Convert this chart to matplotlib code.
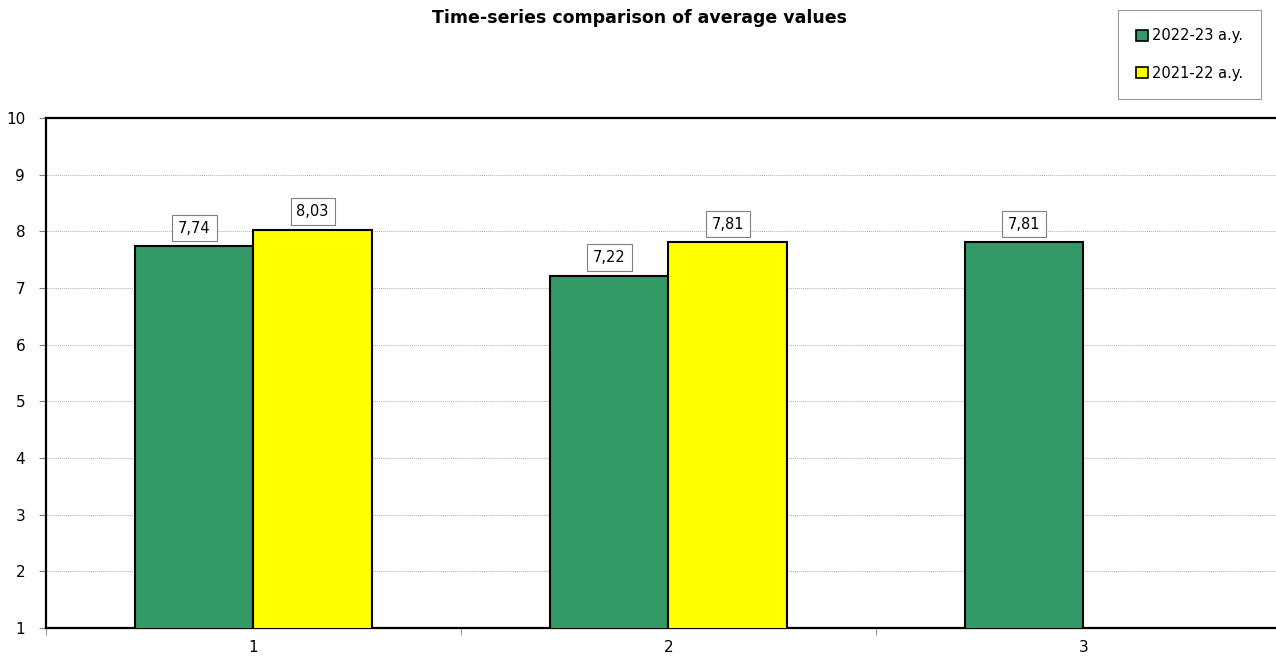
import matplotlib
matplotlib.use("Agg")
import matplotlib.pyplot as plt
import numpy as np
from matplotlib.patches import Patch

categories = ["1", "2", "3"]
series_names = ["2022-23 a.y.", "2021-22 a.y."]
values_2223 = [7.74, 7.22, 7.81]
values_2122 = [8.03, 7.81, np.nan]
colors = ["#339966", "#FFFF00"]
title = "Time-series comparison of average values"

plt.rcParams['font.family'] = ['DejaVu Sans']

fig = plt.figure(figsize=(12.76, 6.61), dpi=100)
W, H = 1276, 661
left, right, top, bottom = 46, 1291, 118, 628
ax = fig.add_axes([left / W, 1 - bottom / H, (right - left) / W, (bottom - top) / H])

x = np.arange(len(categories))
bw = 0.285
ax.bar(x - bw / 2, values_2223, bw, bottom=0, color=colors[0], edgecolor="black", linewidth=1.5, zorder=3)
ax.bar(x + bw / 2, values_2122, bw, bottom=0, color=colors[1], edgecolor="black", linewidth=1.5, zorder=3)

ax.set_xlim(-0.5, 2.5)
ax.set_ylim(1, 10)
ax.set_yticks(range(1, 11))
ax.yaxis.grid(True, color="#b0b0b0", linestyle=(0, (1, 1)), linewidth=0.7, zorder=0)
ax.set_xticks(x)
ax.set_xticklabels(categories, fontsize=11)
ax.set_xticks([-0.5, 0.5, 1.5, 2.5], minor=True)
ax.tick_params(axis="x", which="major", length=0, pad=9)
ax.tick_params(axis="x", which="minor", length=5, color="#808080", direction="out")
ax.tick_params(axis="y", length=5, color="#808080", labelsize=11, pad=10)

for s in ["left", "top", "bottom", "right"]:
    ax.spines[s].set_linewidth(1.6)
    ax.spines[s].set_color("black")

def lab(v):
    return f"{v:.2f}".replace(".", ",")

for xs, vals in [(x - bw / 2, values_2223), (x + bw / 2, values_2122)]:
    for xi, v in zip(xs, vals):
        if np.isnan(v):
            continue
        ax.annotate(lab(v), (xi, v), xytext=(0, 13), textcoords="offset points",
                    ha="center", va="center", fontsize=10.5, zorder=5,
                    bbox=dict(boxstyle="square,pad=0.4", fc="white", ec="#808080", lw=0.8))

fig.text(640 / W, 1 - 18 / H, title, ha="center", va="center", fontsize=12.5, fontweight="bold")

handles = [Patch(facecolor=c, edgecolor="black", linewidth=1.2) for c in colors]
leg = fig.legend(handles, series_names, loc="upper left", bbox_to_anchor=(1118 / W, 1 - 10 / H),
                 fontsize=10.5, frameon=True, fancybox=False, edgecolor="#808080",
                 handlelength=0.8, handleheight=0.8, handletextpad=0.25, labelspacing=1.55,
                 borderpad=1.25, borderaxespad=0)
leg.get_frame().set_linewidth(0.8)

fig.savefig("out.png", dpi=100)
